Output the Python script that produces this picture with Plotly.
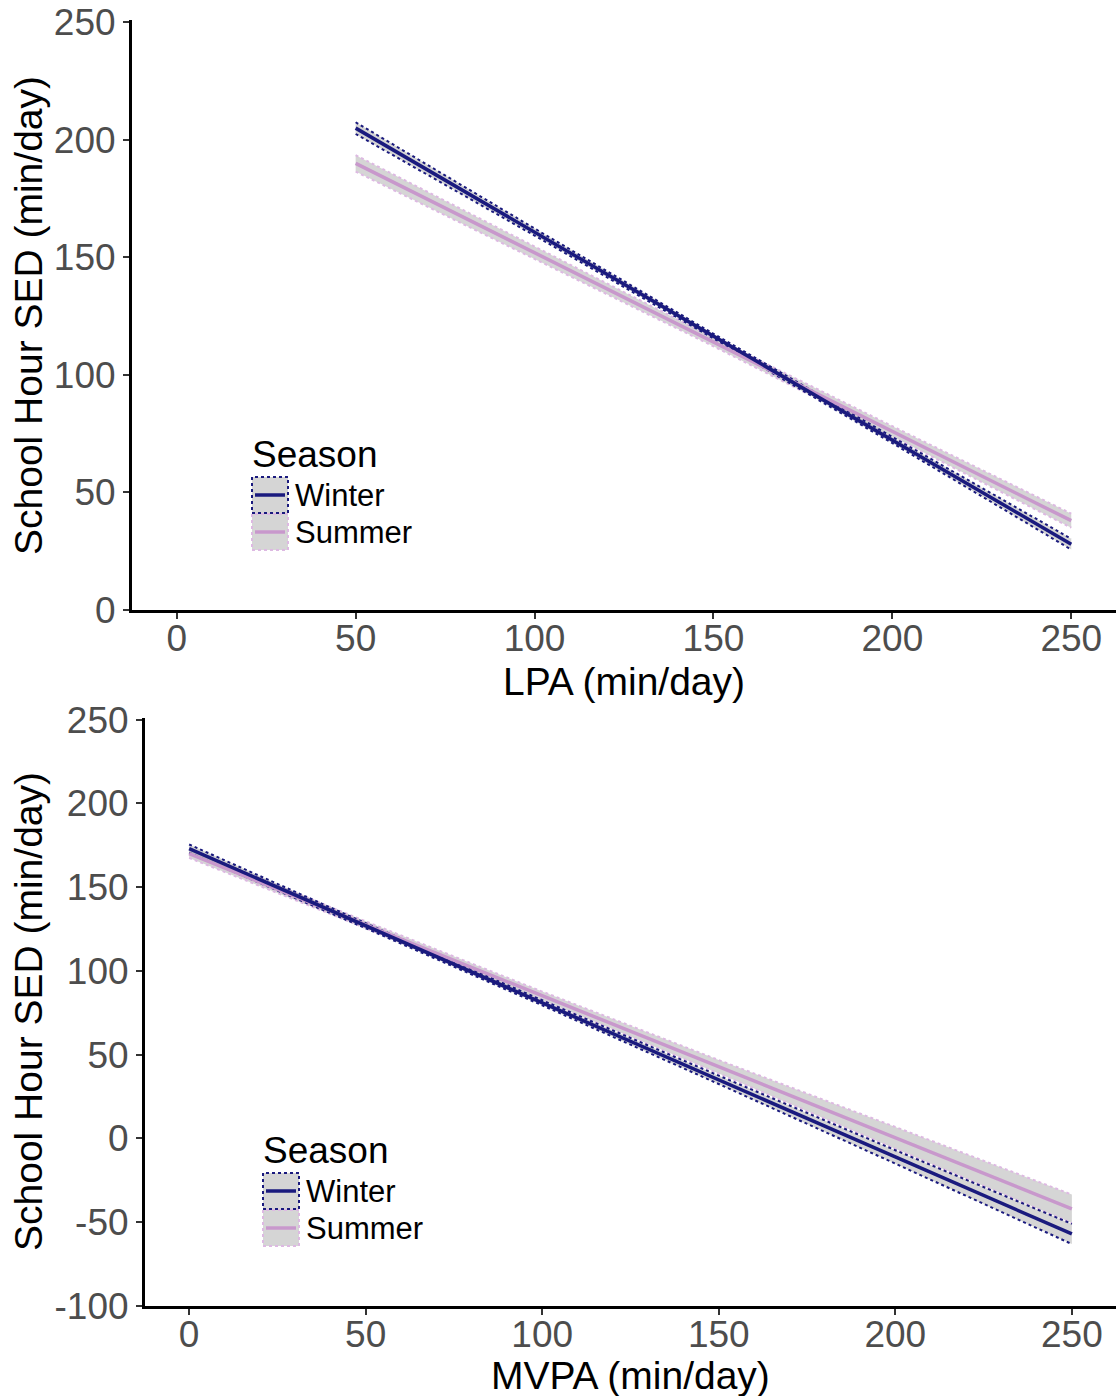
import plotly.graph_objects as go

W, H = 1116, 1396

# ---------------- data ----------------
top_x = [50, 100, 150, 200, 250]
top_winter = [205.0, 160.8, 116.5, 72.3, 28.0]
top_winter_hw = [2.5, 1.5, 1.0, 1.3, 2.3]
top_summer = [190.0, 152.0, 114.0, 76.0, 38.0]
top_summer_hw = [3.5, 2.5, 1.8, 2.2, 3.0]

bot_x = [0, 50, 100, 150, 200, 250]
bot_winter = [173.0, 127.0, 81.0, 35.0, -11.0, -57.0]
bot_winter_hw = [2.5, 1.5, 1.5, 2.5, 4.0, 6.0]
bot_summer = [170.0, 127.6, 85.2, 42.8, 0.4, -42.0]
bot_summer_hw = [2.5, 2.0, 2.5, 4.0, 6.5, 8.5]

x_ticks = [0, 50, 100, 150, 200, 250]
top_y_ticks = [0, 50, 100, 150, 200, 250]
bot_y_ticks = [-100, -50, 0, 50, 100, 150, 200, 250]
bot_y_labels = ["-100", "-50", "0", "50", "100", "150", "200", "250"]

series_names = ["Winter", "Summer"]
legend_title = "Season"

# ---------------- styles ----------------
WINTER = "#1A1A7E"
WINTER_EDGE = "#1A1A7E"
SUMMER = "#C898CC"
SUMMER_EDGE = "#DDB9E2"
FILL = "rgba(150,150,150,0.40)"
FONT = "Liberation Sans, Arial, sans-serif"

fig = go.Figure()


def band(xs, ys, hw, xa, ya, edge):
    lo = [y - h for y, h in zip(ys, hw)]
    hi = [y + h for y, h in zip(ys, hw)]
    fig.add_trace(go.Scatter(x=xs, y=lo, mode="lines", xaxis=xa, yaxis=ya,
                             line=dict(color=edge, width=2, dash="dot"),
                             showlegend=False, hoverinfo="skip"))
    fig.add_trace(go.Scatter(x=xs, y=hi, mode="lines", xaxis=xa, yaxis=ya,
                             line=dict(color=edge, width=2, dash="dot"),
                             fill="tonexty", fillcolor=FILL,
                             showlegend=False, hoverinfo="skip"))


def mean_line(xs, ys, xa, ya, color):
    fig.add_trace(go.Scatter(x=xs, y=ys, mode="lines", xaxis=xa, yaxis=ya,
                             line=dict(color=color, width=3.5),
                             showlegend=False))


# top panel
band(top_x, top_summer, top_summer_hw, "x", "y", SUMMER_EDGE)
band(top_x, top_winter, top_winter_hw, "x", "y", WINTER_EDGE)
mean_line(top_x, top_summer, "x", "y", SUMMER)
mean_line(top_x, top_winter, "x", "y", WINTER)

# bottom panel
band(bot_x, bot_summer, bot_summer_hw, "x2", "y2", SUMMER_EDGE)
band(bot_x, bot_winter, bot_winter_hw, "x2", "y2", WINTER_EDGE)
mean_line(bot_x, bot_summer, "x2", "y2", SUMMER)
mean_line(bot_x, bot_winter, "x2", "y2", WINTER)


def px(x):
    return x / W


def py(y):
    return 1 - y / H


axis_common = dict(showline=True, linecolor="black", linewidth=3,
                   showgrid=False, zeroline=False, ticks="outside",
                   ticklen=6, tickwidth=2, tickcolor="#333333",
                   tickfont=dict(size=37, color="#4D4D4D", family=FONT),
                   mirror=False, automargin=False)

fig.update_layout(
    width=W, height=H, margin=dict(l=0, r=0, t=0, b=0, pad=0),
    paper_bgcolor="white", plot_bgcolor="white", showlegend=False,
    font=dict(family=FONT),
    xaxis=dict(domain=[px(132), 1], range=[-12.5, 262.5], tickvals=x_ticks,
               anchor="y", ticklabelstandoff=-12, **axis_common),
    yaxis=dict(domain=[py(610), py(20)], range=[0, 251], tickvals=top_y_ticks,
               anchor="x", **axis_common),
    xaxis2=dict(domain=[px(145), 1], range=[-12.5, 262.5], tickvals=x_ticks,
                anchor="y2", ticklabelstandoff=-12, **axis_common),
    yaxis2=dict(domain=[py(1306), py(718)], range=[-100, 251], tickvals=bot_y_ticks,
                ticktext=bot_y_labels, anchor="x2", **axis_common),
)

ann = []
# axis titles
ann.append(dict(text="LPA (min/day)", x=px(624), y=py(681), xref="paper", yref="paper",
                xanchor="center", yanchor="middle",
                showarrow=False, font=dict(size=39, color="black", family=FONT)))
ann.append(dict(text="MVPA (min/day)", x=px(630), y=py(1375), xref="paper", yref="paper",
                xanchor="center", yanchor="middle",
                showarrow=False, font=dict(size=39, color="black", family=FONT)))
ann.append(dict(text="School Hour SED (min/day)", x=px(28), y=py(316), xref="paper",
                yref="paper", showarrow=False, textangle=-90,
                xanchor="center", yanchor="middle",
                font=dict(size=39, color="black", family=FONT)))
ann.append(dict(text="School Hour SED (min/day)", x=px(28), y=py(1012), xref="paper",
                yref="paper", showarrow=False, textangle=-90,
                xanchor="center", yanchor="middle",
                font=dict(size=39, color="black", family=FONT)))

shapes = []


def legend(x0, ytitle, y_first):
    ann.append(dict(text=legend_title, x=px(x0 - 2), y=py(ytitle), xref="paper",
                    yref="paper", xanchor="left", yanchor="middle", showarrow=False,
                    font=dict(size=37, color="black", family=FONT)))
    specs = [(series_names[0], WINTER, WINTER_EDGE), (series_names[1], SUMMER, SUMMER_EDGE)]
    for i, (name, col, edge) in enumerate(specs):
        top = y_first + i * 37
        shapes.append(dict(type="rect", xref="paper", yref="paper",
                           x0=px(x0), x1=px(x0 + 36), y0=py(top + 36), y1=py(top),
                           fillcolor=FILL, line=dict(color=edge, width=2, dash="dot"),
                           layer="above"))
        shapes.append(dict(type="line", xref="paper", yref="paper",
                           x0=px(x0 + 3), x1=px(x0 + 33), y0=py(top + 18), y1=py(top + 18),
                           line=dict(color=col, width=3.5), layer="above"))
        ann.append(dict(text=name, x=px(x0 + 41), y=py(top + 18), xref="paper",
                        yref="paper", xanchor="left", yanchor="middle", showarrow=False,
                        font=dict(size=31, color="black", family=FONT)))


legend(252, 455, 477)
legend(263, 1150, 1173)

fig.update_layout(annotations=ann, shapes=shapes)
fig.write_html("out.html")
